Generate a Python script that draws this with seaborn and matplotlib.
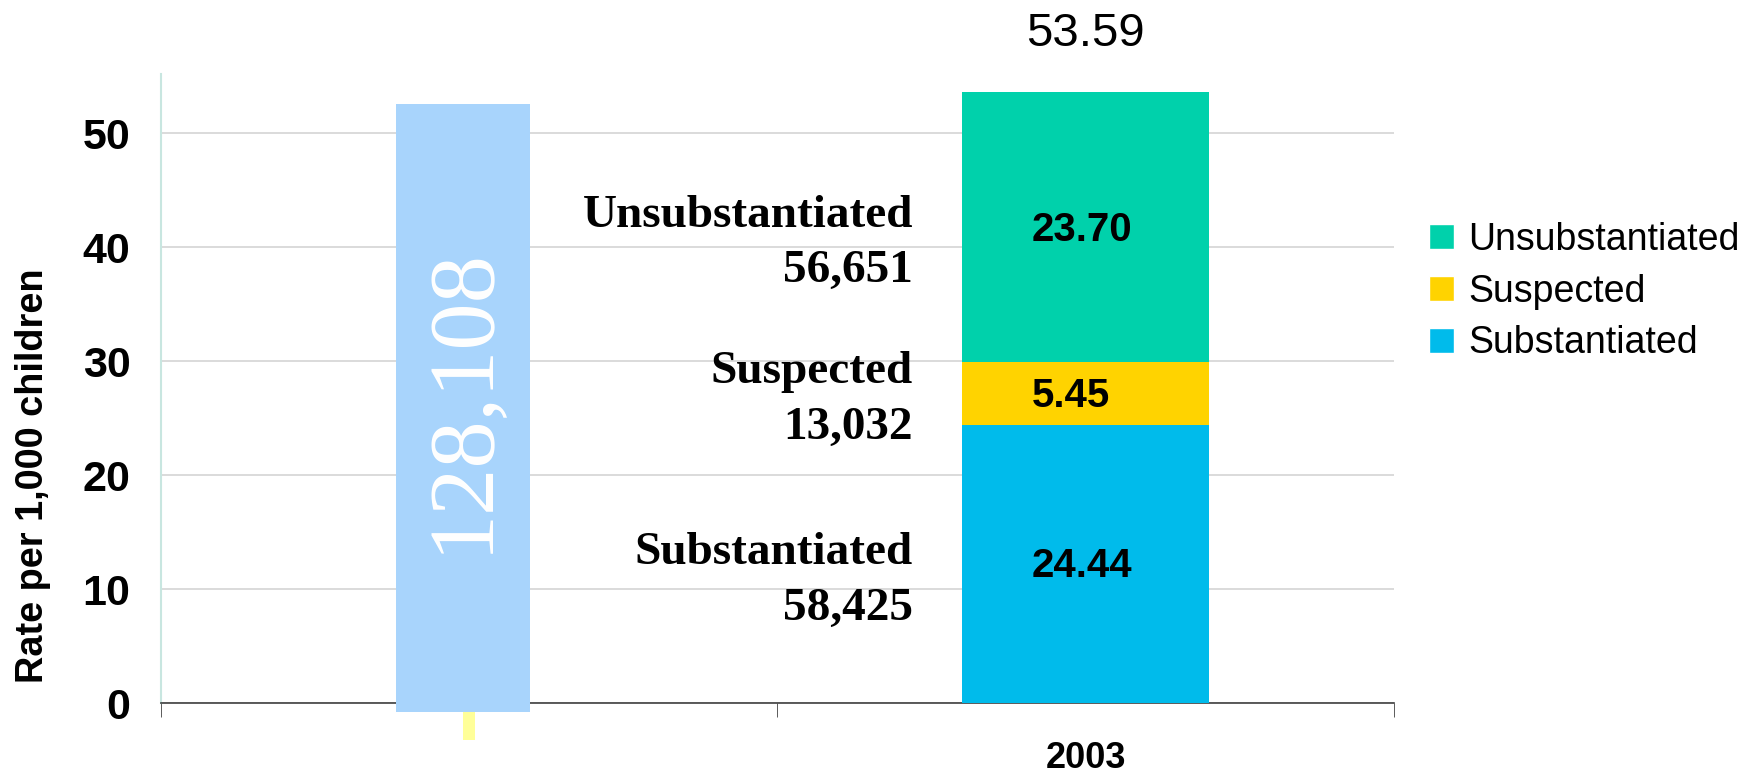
import numpy as np
import pandas as pd
import matplotlib

matplotlib.use("Agg")
import matplotlib.pyplot as plt
import seaborn as sns
from matplotlib.patches import Patch

# ── Data ─────────────────────────────────────────────────────────────────
years = ["", "2003"]
segments = ["Substantiated", "Suspected", "Unsubstantiated"]
rates_2003 = [24.44, 5.45, 23.70]
counts_2003 = ["58,425", "13,032", "56,651"]
total_rate = 53.59
total_count = "128,108"
total_count_rate = 52.6  # height of the light blue "total count" bar

seg_colors = ["#00BBEB", "#FFD300", "#00D1AB"]
overlay_color = "#A8D4FC"
stub_color = "#FFFF99"

sns.set_style("white")
plt.rcParams["font.family"] = ["Liberation Sans", "DejaVu Sans"]
plt.rcParams["text.color"] = "black"
plt.rcParams["axes.labelcolor"] = "black"
plt.rcParams["xtick.color"] = "black"
plt.rcParams["ytick.color"] = "black"
SERIF = ["Liberation Serif", "DejaVu Serif"]

fig = plt.figure(figsize=(17.63, 7.75), dpi=100)
ax = fig.add_axes([0.0913, 0.0929, 0.6994, 0.8116])

# ── Stacked bar (drawn from the top segment down) ────────────────────────
tops = np.cumsum(rates_2003)
df = pd.DataFrame({"year": "2003", "segment": segments, "top": tops})
for i in reversed(range(len(segments))):
    sns.barplot(
        data=df.iloc[[i]],
        x="year",
        y="top",
        order=years,
        color=seg_colors[i],
        saturation=1,
        width=0.4,
        errorbar=None,
        linewidth=0,
        ax=ax,
        zorder=3,
    )

# light blue total-count bar over the first category, with a small stub below
ax.bar(-0.01, total_count_rate + 0.8, bottom=-0.8, width=0.217,
       color=overlay_color, linewidth=0, zorder=4, clip_on=False)
ax.bar(0.0, 2.45, bottom=-3.25, width=0.02, color=stub_color,
       linewidth=0, zorder=4, clip_on=False)
ax.text(-0.01, 26.6, total_count, rotation=90, ha="center", va="center",
        color="white", fontsize=68, family=SERIF, zorder=5)

# ── Labels ───────────────────────────────────────────────────────────────
bottoms = tops - np.array(rates_2003)
label_offsets = [-1.5, -0.55, -1.4]
for name, cnt, b, r, off in zip(segments, counts_2003, bottoms, rates_2003, label_offsets):
    mid = b + r / 2
    ax.text(0.913, mid - 0.2, f"{r:.2f}", ha="left", va="center", fontsize=29,
            fontweight="bold", zorder=5)
    ax.text(0.72, mid + off, f"{name}\n{cnt}", ha="right", va="center",
            multialignment="right", fontsize=34, fontweight="bold",
            family=SERIF, linespacing=1.42, zorder=5)

ax.text(1.0, total_rate + 5.1, f"{total_rate:.2f}", ha="center", va="center",
        fontsize=34, clip_on=False)

# ── Axes styling ─────────────────────────────────────────────────────────
ax.set_xlim(-0.5, 1.5)
ax.set_ylim(0, 55.2)
ax.set_yticks(np.arange(0, 51, 10))
ax.yaxis.grid(True, color="#d4d4d4", linewidth=1.2, zorder=0)
ax.set_axisbelow(True)
ax.set_xlabel("")
ax.set_ylabel("Rate per 1,000 children", fontsize=27.3, fontweight="bold")
ax.yaxis.set_label_coords(-0.089, 0.362)
ax.tick_params(axis="y", labelsize=31, length=12, color="#c8e6e0", pad=10)
for lbl in ax.get_yticklabels():
    lbl.set_fontweight("bold")
ax.set_xticks([0, 1])
ax.set_xticklabels(years, fontsize=26, fontweight="bold")
ax.tick_params(axis="x", length=0, pad=27)
ax.set_xticks([-0.5, 0.5, 1.5], minor=True)
ax.tick_params(axis="x", which="minor", length=10, color="#404040",
               direction="out", bottom=True)

for side in ["top", "right"]:
    ax.spines[side].set_visible(False)
ax.spines["left"].set_color("#c8e6e0")
ax.spines["left"].set_linewidth(1.5)
ax.spines["bottom"].set_color("#404040")
ax.spines["bottom"].set_linewidth(1.2)

# ── Legend ───────────────────────────────────────────────────────────────
handles = [Patch(facecolor=seg_colors[i], label=segments[i])
           for i in reversed(range(len(segments)))]
fig.legend(
    handles=handles,
    loc="upper left",
    bbox_to_anchor=(0.800, 0.738),
    frameon=False,
    fontsize=27,
    handlelength=0.65,
    handleheight=0.65,
    handletextpad=0.4,
    labelspacing=0.42,
    borderpad=0,
)

fig.savefig("out.png", dpi=100)
